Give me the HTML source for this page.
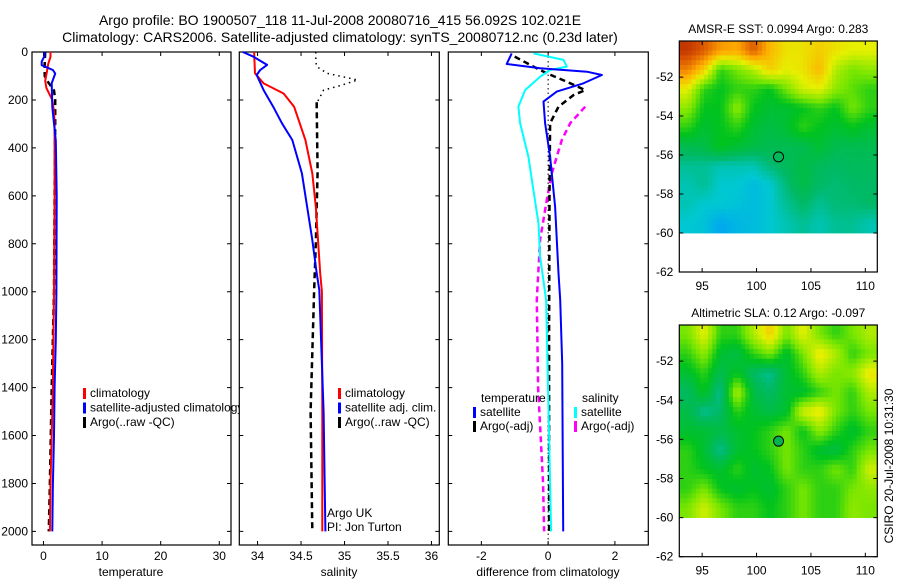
<!DOCTYPE html>
<html><head><meta charset="utf-8"><style>
body{margin:0;background:#fff;}
svg{display:block;font-family:"Liberation Sans",sans-serif;}
</style></head><body>
<svg id="fig" width="900" height="580" viewBox="0 0 900 580" xmlns="http://www.w3.org/2000/svg">
<defs><clipPath id="clip1"><rect x="32" y="52" width="207" height="493"/></clipPath></defs>
<text x="340" y="25" font-size="14" text-anchor="middle">Argo profile: BO 1900507_118 11-Jul-2008 20080716_415 56.092S 102.021E</text>
<text x="340" y="42" font-size="14" text-anchor="middle">Climatology: CARS2006. Satellite-adjusted climatology: synTS_20080712.nc (0.23d later)</text>
<g id="layer"></g>
</svg>
<script>
// ---- data ----
const tempClimDepth=[0,20,50,80,120,150,200,250,300,400,600,800,1000,1200,1400,1600,1800,2000];
const tempClim=[1.2,1.2,0.8,0.6,0.3,0.5,1.5,1.8,1.9,1.9,1.9,1.85,1.8,1.7,1.6,1.4,1.2,1.1];
const tempSatDepth=[0,20,40,55,75,90,130,230,370,600,1000,1200,1400,1600,1800,2000];
const tempSat=[0.2,0.1,-0.3,-0.3,1.6,2.0,1.4,1.5,2.1,2.25,2.2,2.1,1.9,1.8,1.6,1.5];
const tempArgoDepth=[0,50,100,130,160,200,300,600,1000,1400,1800,2000];
const tempArgo=[0.3,0.2,0.2,0.9,1.8,2.0,2.0,1.9,1.8,1.4,1.1,0.9];
const salClimDepth=[0,89,131,173,228,367,506,645,923,1000,1500,2000];
const salClim=[33.96,33.97,34.07,34.3,34.42,34.55,34.63,34.67,34.72,34.74,34.745,34.745];
const salSatDepth=[0,19,54,75,96,159,228,297,367,506,645,784,923,993,1500,2000];
const salSat=[33.83,33.95,34.11,34.03,33.99,34.07,34.18,34.28,34.4,34.51,34.57,34.63,34.68,34.71,34.76,34.78];
const salArgoDepth=[210,228,500,800,1000,1500,2000];
const salArgo=[34.68,34.68,34.69,34.67,34.65,34.61,34.63];
const salRawDepth=[0,40,61,89,117,140,159,214,230];
const salRaw=[34.67,34.67,34.68,34.8,35.15,34.95,34.76,34.68,34.68];
const dTempSatDepth=[6,50,68,82,96,131,165,207,297,437,645,923,1034,1300,2000];
const dTempSat=[-1.09,-1.24,-0.24,1.16,1.61,1.05,0.26,-0.14,-0.09,0.06,0.21,0.31,0.36,0.42,0.45];
const dSalSatDepth=[6,33,61,75,103,159,228,297,437,576,715,854,1034,1600,2000];
const dSalSat=[-0.44,0.46,0.56,0.06,-0.24,-0.69,-0.89,-0.84,-0.59,-0.44,-0.29,-0.24,-0.06,0.03,0.09];
const dTempArgoDepth=[19,61,89,124,159,180,228,297,600,1200,2000];
const dTempArgo=[-1.0,-0.44,-0.04,0.56,1.11,0.76,0.31,0.06,0.04,0.03,0.03];
const dSalArgoDepth=[228,297,367,506,617,784,1034,1400,1800,2000];
const dSalArgo=[1.11,0.66,0.41,0.11,-0.04,-0.24,-0.34,-0.3,-0.15,-0.12];
const depthTicks=[0,200,400,600,800,1000,1200,1400,1600,1800,2000];
const tempTicks=[0,10,20,30];
const salTicks=[34,34.5,35,35.5,36];
const salTickLabels=["34","34.5","35","35.5","36"];
const diffTicks=[-2,0,2];
const latTicks=[-52,-54,-56,-58,-60,-62];
const lonTicks=[95,100,105,110];
const sstGrid=[
[0.95,0.9,0.82,0.8,0.9,0.78,0.72,0.72,0.75,0.72,0.7,0.7],
[0.85,0.75,0.55,0.6,0.65,0.75,0.7,0.72,0.78,0.65,0.6,0.62],
[0.7,0.55,0.52,0.55,0.55,0.52,0.6,0.68,0.7,0.62,0.58,0.55],
[0.62,0.52,0.52,0.62,0.52,0.5,0.5,0.52,0.55,0.52,0.6,0.55],
[0.55,0.5,0.52,0.55,0.5,0.48,0.5,0.55,0.52,0.5,0.52,0.5],
[0.47,0.48,0.52,0.5,0.48,0.47,0.47,0.47,0.5,0.47,0.47,0.47],
[0.42,0.42,0.4,0.4,0.4,0.44,0.46,0.48,0.46,0.45,0.46,0.46],
[0.4,0.42,0.38,0.38,0.36,0.38,0.44,0.48,0.45,0.44,0.45,0.45],
[0.4,0.38,0.38,0.37,0.36,0.38,0.42,0.45,0.42,0.44,0.44,0.45],
[0.38,0.37,0.33,0.35,0.36,0.38,0.4,0.42,0.4,0.42,0.42,0.4]];
const slaGrid=[
[0.6,0.7,0.55,0.55,0.65,0.75,0.6,0.7,0.6,0.55,0.6,0.65],
[0.55,0.62,0.5,0.48,0.55,0.6,0.5,0.6,0.72,0.65,0.55,0.6],
[0.5,0.55,0.47,0.52,0.45,0.42,0.5,0.55,0.65,0.6,0.62,0.72],
[0.45,0.52,0.42,0.65,0.48,0.45,0.5,0.5,0.55,0.6,0.55,0.65],
[0.48,0.42,0.45,0.55,0.5,0.48,0.5,0.68,0.72,0.6,0.55,0.6],
[0.5,0.5,0.48,0.5,0.52,0.55,0.6,0.52,0.62,0.55,0.5,0.55],
[0.55,0.5,0.42,0.5,0.52,0.55,0.6,0.55,0.5,0.48,0.55,0.6],
[0.55,0.52,0.5,0.55,0.5,0.52,0.6,0.55,0.55,0.6,0.55,0.68],
[0.55,0.6,0.52,0.5,0.52,0.5,0.55,0.6,0.55,0.55,0.6,0.62],
[0.6,0.68,0.6,0.55,0.55,0.52,0.55,0.6,0.55,0.55,0.62,0.6]];
const argoLon=102.021, argoLat=-56.092;

// ---- rendering ----
const NS="http://www.w3.org/2000/svg";
const layer=document.getElementById('layer');
function mk(tag,attrs,parent){const e=document.createElementNS(NS,tag);for(const k in attrs)e.setAttribute(k,attrs[k]);(parent||layer).appendChild(e);return e;}
const TOP=52,BOT=545;
const yD=d=>TOP+d*0.2397;
function panel(x0,x1,lo,hi){return {x0,x1,sx:v=>x0+(v-lo)/(hi-lo)*(x1-x0)};}
const P1=panel(32,231,-1.96,32.0), P2=panel(239.3,439.3,33.79,36.09), P3=panel(448.3,648.3,-2.99,3.0);
function drawBox(p,name){
  const r=mk('rect',{x:p.x0,y:TOP,width:p.x1-p.x0,height:BOT-TOP,fill:'none',stroke:'#000','stroke-width':1.2});
  
  
  depthTicks.forEach(d=>{const y=yD(d);
    const t=mk('path',{d:`M${p.x0},${y}h4M${p.x1},${y}h-4`,stroke:'#000','stroke-width':1});
    
    });
}
function xTicks(p,vals,labels,name){
  vals.forEach((v,i)=>{const x=p.sx(v);
    const t=mk('path',{d:`M${x},${TOP}v4M${x},${BOT}v-4`,stroke:'#000','stroke-width':1});
    
    
    const l=mk('text',{x:x,y:BOT+15,'font-size':12,'text-anchor':'middle'});l.textContent=labels[i];
    
    });
}
function line(p,depths,vals,color,w,dash,name){
  const pts=depths.map((d,i)=>`${p.sx(vals[i]).toFixed(1)},${yD(d).toFixed(1)}`).join(' ');
  const a={points:pts,fill:'none',stroke:color,'stroke-width':w,'stroke-linejoin':'round'};
  if(dash)a['stroke-dasharray']=dash;
  const e=mk('polyline',a);
  
  
  return e;
}
function txt(x,y,s,name,size,anchor){const t=mk('text',{x,y,'font-size':size||12,'text-anchor':anchor||'start'});t.textContent=s;
  
  return t;}
function legendEntry(x,y,color,label,name){
  const m=mk('rect',{x:x,y:y-9,width:3,height:11,fill:color});
  
  
  return txt(x+7,y,label,name,12);
}

// panel 1 temperature
drawBox(P1,'temperature-panel');
depthTicks.forEach(d=>{txt(28,yD(d)+4,String(d),'depth-tick-label',12,'end');});
xTicks(P1,tempTicks,tempTicks.map(String),'temperature-axis');
txt(131,576,'temperature','temperature-axis-title',12,'middle');
line(P1,tempArgoDepth,tempArgo,'#000',2.5,'6,4','temperature-argo-line');
line(P1,tempClimDepth,tempClim,'#f00',2,null,'temperature-climatology-line');
line(P1,tempSatDepth,tempSat,'#00f',2,null,'temperature-satellite-line');
const lg1=mk('g',{'clip-path':'url(#clip1)'});


[['#f00','climatology'],['#00f','satellite-adjusted climatology'],['#000','Argo(..raw -QC)']].forEach((e,i)=>{
  const m=mk('rect',{x:83,y:397+i*14.5-9,width:3,height:11,fill:e[0]},lg1);
  
  
  const t=mk('text',{x:90,y:397+i*14.5,'font-size':12},lg1);t.textContent=e[1];
  
  
});

// panel 2 salinity
drawBox(P2,'salinity-panel');
xTicks(P2,salTicks,salTickLabels,'salinity-axis');
txt(339,576,'salinity','salinity-axis-title',12,'middle');
line(P2,salRawDepth,salRaw,'#000',1.5,'1.5,4','salinity-argo-raw-line');
line(P2,salArgoDepth,salArgo,'#000',2.5,'6,4','salinity-argo-line');
line(P2,salClimDepth,salClim,'#f00',2,null,'salinity-climatology-line');
line(P2,salSatDepth,salSat,'#00f',2,null,'salinity-satellite-line');
legendEntry(338,397,'#f00','climatology','legend-climatology');
legendEntry(338,411.5,'#00f','satellite adj. clim.','legend-satellite');
legendEntry(338,426,'#000','Argo(..raw -QC)','legend-argo');
txt(327,517,'Argo UK','argo-uk-label',12);
txt(327,531,'PI: Jon Turton','pi-label',12);

// panel 3 differences
drawBox(P3,'difference-panel');
xTicks(P3,diffTicks,diffTicks.map(String),'difference-axis');
txt(548,576,'difference from climatology','difference-axis-title',12,'middle');
const zl=mk('line',{x1:P3.sx(0),x2:P3.sx(0),y1:TOP,y2:BOT,stroke:'#000','stroke-width':1,'stroke-dasharray':'1.5,3'});


line(P3,dSalArgoDepth,dSalArgo,'#f0f',2.5,'6,4','salinity-argo-diff-line');
line(P3,dTempArgoDepth,dTempArgo,'#000',2.5,'6,4','temperature-argo-diff-line');
line(P3,dSalSatDepth,dSalSat,'#0ff',2,null,'salinity-satellite-diff-line');
line(P3,dTempSatDepth,dTempSat,'#00f',2,null,'temperature-satellite-diff-line');
txt(481,402,'temperature','legend-temperature-header',12);
legendEntry(473,416,'#00f','satellite','legend-temp-satellite');
legendEntry(473,430,'#000','Argo(-adj)','legend-temp-argo');
txt(582,402,'salinity','legend-salinity-header',12);
legendEntry(574,416,'#0ff','satellite','legend-sal-satellite');
legendEntry(574,430,'#f0f','Argo(-adj)','legend-sal-argo');

// maps
const stops=[[0,[0,0,200]],[0.3,[0,150,255]],[0.38,[0,200,210]],[0.45,[0,185,100]],[0.52,[0,195,30]],[0.6,[120,230,0]],[0.7,[230,240,0]],[0.8,[255,170,0]],[0.9,[220,90,0]],[1,[170,20,0]]];
function cmap(v){for(let i=1;i<stops.length;i++){if(v<=stops[i][0]){const a=stops[i-1],b=stops[i],t=(v-a[0])/(b[0]-a[0]);
  return 'rgb('+a[1].map((c,k)=>Math.round(c+(b[1][k]-c)*t)).join(',')+')';}}return 'rgb(170,20,0)';}
function sample(grid,fr,fc){
  const rows=grid.length,cols=grid[0].length;
  const r=Math.min(Math.max(fr-0.5,0),rows-1),c=Math.min(Math.max(fc-0.5,0),cols-1);
  const r0=Math.floor(r),c0=Math.floor(c),r1=Math.min(r0+1,rows-1),c1=Math.min(c0+1,cols-1);
  const tr=r-r0,tc=c-c0;
  return grid[r0][c0]*(1-tr)*(1-tc)+grid[r0][c1]*(1-tr)*tc+grid[r1][c0]*tr*(1-tc)+grid[r1][c1]*tr*tc;
}
function map(x0,x1,y0,y1,grid,title,name,fillCircle){
  const lonLo=92.9,lonHi=111.1,latTop=-50.15,latBot=-62;
  const sx=l=>x0+(l-lonLo)/(lonHi-lonLo)*(x1-x0);
  const sy=l=>y0+(latTop-l)/(latTop-latBot)*(y1-y0);
  const rows=grid.length,cols=grid[0].length,SUB=4;
  const yEnd=sy(-60),cw=(x1-x0)/(cols*SUB),ch=(yEnd-y0)/(rows*SUB);
  for(let r=0;r<rows*SUB;r++)for(let c=0;c<cols*SUB;c++){
    const v=sample(grid,(r+0.5)/SUB,(c+0.5)/SUB);
    const e=mk('rect',{x:(x0+c*cw).toFixed(2),y:(y0+r*ch).toFixed(2),width:(cw+0.4).toFixed(2),height:(ch+0.4).toFixed(2),fill:cmap(v)});
    
    
  }
  const b=mk('rect',{x:x0,y:y0,width:x1-x0,height:y1-y0,fill:'none',stroke:'#000','stroke-width':1.2});
  
  
  latTicks.forEach(l=>{const y=sy(l);
    const t=mk('path',{d:`M${x0},${y}h4M${x1},${y}h-4`,stroke:'#000'});
    
    
    txt(x0-6,y+4,String(l),name+'-lat-label',12,'end');});
  lonTicks.forEach(l=>{const x=sx(l);
    const t=mk('path',{d:`M${x},${y0}v4M${x},${y1}v-4`,stroke:'#000'});
    
    
    txt(x,y1+18,String(l),name+'-lon-label',12,'middle');});
  const c=mk('circle',{cx:sx(argoLon),cy:sy(argoLat),r:5,fill:fillCircle||'none',stroke:'#000','stroke-width':1});
  
  
  txt((x0+x1)/2,y0-8,title,name+'-title',12,'middle');
}
map(679.3,877.3,41,272,sstGrid,'AMSR-E SST: 0.0994 Argo: 0.283','sst-map');
map(679.3,877.3,325,556.7,slaGrid,'Altimetric SLA: 0.12 Argo: -0.097','sla-map','rgb(0,180,80)');
const stamp=txt(0,0,'CSIRO 20-Jul-2008 10:31:30','timestamp',12,'middle');
stamp.setAttribute('transform','translate(893,466) rotate(-90)');
</script>
</body></html>
